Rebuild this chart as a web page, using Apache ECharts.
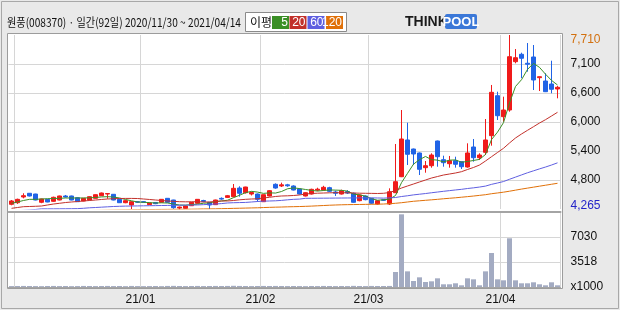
<!DOCTYPE html>
<html><head><meta charset="utf-8">
<script src="https://cdn.jsdelivr.net/npm/echarts@6/dist/echarts.min.js"></script>
<style>html,body{margin:0;padding:0;background:#e9e9e9}#c{width:620px;height:310px}</style>
</head><body><div id="c"></div>
<script>
const dates = ['2020/11/30',
'2020/12/01','2020/12/02','2020/12/03','2020/12/04','2020/12/07','2020/12/08','2020/12/09','2020/12/10','2020/12/11','2020/12/14','2020/12/15','2020/12/16','2020/12/17','2020/12/18','2020/12/21','2020/12/22','2020/12/23','2020/12/24','2020/12/28','2020/12/29','2020/12/30',
'2021/01/04','2021/01/05','2021/01/06','2021/01/07','2021/01/08','2021/01/11','2021/01/12','2021/01/13','2021/01/14','2021/01/15','2021/01/18','2021/01/19','2021/01/20','2021/01/21','2021/01/22','2021/01/25','2021/01/26','2021/01/27','2021/01/28','2021/01/29',
'2021/02/01','2021/02/02','2021/02/03','2021/02/04','2021/02/05','2021/02/08','2021/02/09','2021/02/10','2021/02/15','2021/02/16','2021/02/17','2021/02/18','2021/02/19','2021/02/22','2021/02/23','2021/02/24','2021/02/25','2021/02/26',
'2021/03/02','2021/03/03','2021/03/04','2021/03/05','2021/03/08','2021/03/09','2021/03/10','2021/03/11','2021/03/12','2021/03/15','2021/03/16','2021/03/17','2021/03/18','2021/03/19','2021/03/22','2021/03/23','2021/03/24','2021/03/25','2021/03/26','2021/03/29','2021/03/30','2021/03/31',
'2021/04/01','2021/04/02','2021/04/05','2021/04/06','2021/04/07','2021/04/08','2021/04/09','2021/04/12','2021/04/13','2021/04/14'];

const open  = [4297,4330,4448,4525,4510,4339,4400,4359,4386,4469,4469,4434,4366,4386,4421,4475,4510,4504,4400,4330,4283,4350,4352,4290,4335,4339,4421,4386,4220,4214,4268,4318,4376,4339,4290,4420,4440,4455,4634,4537,4510,4510,4351,4469,4711,4676,4700,4676,4614,4469,4510,4590,4593,4641,4552,4510,4560,4525,4372,4469,4421,4303,4390,4303,4537,4868,5628,5441,5359,5055,5096,5607,5220,5137,5200,5179,5069,5483,5261,5373,5717,6544,6110,6248,7248,7401,7215,7345,6917,6848,6786,6683];
const close = [4366,4400,4476,4469,4386,4407,4345,4442,4469,4448,4386,4351,4421,4455,4496,4531,4520,4386,4330,4372,4351,4340,4338,4324,4310,4400,4339,4227,4240,4262,4339,4400,4355,4283,4386,4405,4475,4628,4525,4655,4541,4400,4496,4579,4634,4700,4680,4593,4510,4537,4607,4610,4649,4566,4525,4579,4530,4339,4490,4393,4318,4372,4380,4558,4765,5648,5332,5338,5021,5096,5317,5282,5158,5200,5125,5075,5359,5261,5317,5628,6614,6130,6248,7351,7330,7318,7195,6869,6937,6627,6677,6718];
const low   = [4277,4305,4421,4460,4380,4320,4340,4350,4380,4440,4380,4345,4360,4380,4415,4470,4413,4380,4325,4320,4200,4330,4330,4285,4300,4335,4335,4205,4195,4210,4262,4312,4340,4200,4285,4390,4430,4442,4455,4520,4480,4350,4345,4460,4620,4655,4660,4585,4500,4460,4500,4570,4580,4550,4470,4500,4510,4330,4360,4380,4300,4290,4370,4283,4530,4860,5110,5110,4903,4951,5055,5075,5075,5055,5055,5028,5055,5179,5214,5317,5510,6041,6006,6213,7214,6908,7041,6662,6641,6620,6594,6490];
const high  = [4386,4414,4525,4530,4515,4414,4407,4455,4476,4490,4476,4440,4428,4462,4503,4540,4530,4510,4405,4380,4360,4360,4362,4330,4345,4405,4425,4390,4250,4268,4345,4405,4390,4345,4392,4440,4490,4717,4670,4660,4560,4520,4500,4590,4730,4745,4720,4690,4625,4545,4620,4640,4680,4660,4580,4600,4590,4540,4500,4480,4430,4380,4400,4628,5545,6248,5986,5450,5370,5193,5352,5615,5303,5297,5282,5185,5559,5648,5352,6062,6766,6627,6524,7800,7510,7434,7634,7593,6940,7008,7268,6745];

const ma5   = [4318,4345,4376,4400,4400,4407,4413,4417,4421,4428,4428,4428,4428,4432,4438,4450,4455,4448,4428,4397,4370,4345,4339,4332,4324,4328,4324,4303,4283,4279,4293,4300,4319,4328,4353,4366,4381,4435,4484,4538,4565,4550,4523,4534,4530,4562,4618,4637,4623,4604,4585,4571,4583,4594,4591,4586,4570,4508,4493,4466,4414,4382,4391,4404,4479,4745,4937,5128,5221,5287,5221,5211,5175,5211,5216,5168,5183,5204,5227,5328,5636,5790,5987,6394,6735,6875,7088,7213,7130,6989,6861,6766];
const ma20  = [4214,4231,4248,4252,4256,4262,4283,4303,4318,4334,4345,4355,4366,4376,4386,4397,4407,4413,4417,4419,4419,4417,4407,4397,4386,4376,4366,4359,4351,4349,4349,4351,4345,4345,4355,4366,4366,4376,4390,4400,4407,4411,4428,4442,4459,4469,4473,4479,4490,4510,4521,4527,4531,4535,4537,4537,4535,4531,4527,4525,4523,4521,4525,4541,4583,4634,4676,4717,4759,4800,4841,4872,4903,4924,4945,4972,5017,5059,5110,5193,5282,5369,5456,5566,5669,5752,5828,5903,5979,6048,6124,6201];
const ma60  = [4160,4165,4172,4180,4190,4203,4203,4203,4204,4205,4206,4208,4215,4225,4231,4238,4245,4252,4256,4260,4262,4264,4266,4268,4270,4272,4274,4276,4278,4280,4282,4284,4290,4296,4303,4312,4325,4330,4333,4336,4345,4355,4362,4366,4370,4378,4390,4400,4405,4421,4422,4423,4424,4425,4426,4427,4428,4429,4430,4430,4430,4428,4425,4430,4438,4458,4474,4492,4506,4520,4536,4551,4566,4580,4594,4607,4624,4638,4654,4674,4710,4738,4768,4815,4860,4905,4950,4990,5030,5068,5110,5155];
const ma120 = [4130,4133,4136,4139,4142,4145,4148,4151,4154,4157,4160,4162,4165,4168,4171,4173,4176,4178,4180,4182,4184,4186,4188,4189,4190,4191,4192,4193,4194,4195,4196,4198,4201,4202,4204,4207,4210,4213,4216,4219,4222,4225,4230,4234,4238,4241,4245,4248,4251,4255,4260,4266,4272,4278,4283,4287,4290,4292,4294,4296,4298,4300,4303,4310,4318,4330,4345,4360,4370,4380,4390,4400,4412,4422,4432,4444,4456,4468,4482,4496,4516,4532,4548,4568,4590,4612,4632,4652,4672,4692,4712,4732];
const volume = [130,140,150,140,130,120,140,150,130,140,120,130,150,140,130,140,150,130,140,120,150,130,120,130,140,120,150,160,140,130,140,150,130,140,150,140,150,170,150,140,130,140,150,140,150,140,130,140,130,120,140,130,150,140,130,140,130,160,140,130,150,140,140,150,2110,10220,2200,840,1360,700,800,1220,380,380,520,240,1220,1080,240,2200,4780,1080,940,6850,940,520,520,660,380,240,660,240];

const priceTickValues = [4265,4800,5400,6000,6600,7200,7710];
const priceTickLabels = ['4,265','4,800','5,400','6,000','6,600','7,100','7,710'];
const volTickLabels = ['x1000','3518','7030'];
const monthLabels = ['21/01','21/02','21/03','21/04'];
const titleText = '원풍(008370) · 일간(92일) 2020/11/30 ~ 2021/04/14';
const maLegend = ['5','20','60','120'];
const maColors = ['#3b8f26','#c2312b','#5f5fe0','#e07008'];

const FONT = '"Liberation Sans", Arial, sans-serif';
const KFONT = '"Noto Sans CJK KR", "Liberation Sans", sans-serif';
function isMonthStart(i){ return i>0 && dates[i].slice(5,7)!==dates[i-1].slice(5,7); }

const chart = echarts.init(document.getElementById('c'), null, {renderer:'canvas'});
const gridLine = {show:true, interval:(i)=>isMonthStart(i), lineStyle:{color:'#d6d6d6', width:1}};

const legendEls = [];
const boxX = [272, 289.5, 307.5, 326];
maLegend.forEach((t,k)=>{
  legendEls.push({type:'rect', shape:{x:boxX[k], y:16, width:17, height:13}, style:{fill:maColors[k]}, z:10});
  legendEls.push({type:'text', x:boxX[k]+16, y:22.5, style:{text:t, fill:'#fff', font:'12px '+FONT, textAlign:'right', textVerticalAlign:'middle'}, z:11});
});

chart.setOption({
  animation:false,
  backgroundColor:'#e9e9e9',
  textStyle:{fontFamily:FONT},
  graphic:[
    {type:'rect', shape:{x:1.5,y:1.5,width:617,height:307}, style:{fill:'#e9e9e9', stroke:'#a8a8a8', lineWidth:1}, z:-20},
    {type:'rect', shape:{x:7.5,y:33.5,width:555,height:255}, style:{fill:'#ffffff', stroke:'#9c9c9c', lineWidth:1}, z:-10},
    {type:'text', x:7, y:22, scaleX:0.845, style:{text:titleText, fill:'#111', font:'12px '+KFONT, textVerticalAlign:'middle'}, z:10},
    {type:'rect', shape:{x:245.5,y:12.5,width:101,height:19}, style:{fill:'#fff', stroke:'#8a8a8a', lineWidth:1}, z:9},
    {type:'text', x:250, y:22, style:{text:'이평', fill:'#111', font:'12px '+KFONT, textVerticalAlign:'middle'}, z:10},
    ...legendEls,
    {type:'text', x:405, y:22, style:{text:'THINK', fill:'#1a1a1a', font:'bold 14px '+FONT, textVerticalAlign:'middle'}, z:10},
    {type:'rect', shape:{x:445,y:14,width:32,height:15, r:2}, style:{fill:'#3b78d8'}, z:10},
    {type:'text', x:461, y:22, style:{text:'POOL', fill:'#fff', font:'bold 13px '+FONT, textAlign:'center', textVerticalAlign:'middle'}, z:11}
  ],
  grid:[
    {left:8.5, top:35, width:552, height:174},
    {left:8.5, top:212, width:552, height:75}
  ],
  xAxis:[
    {type:'category', gridIndex:0, data:dates, boundaryGap:true,
     axisLine:{show:true, lineStyle:{color:'#a4a4a4', width:2}}, axisTick:{show:false}, axisLabel:{show:false},
     splitLine:gridLine, offset:3},
    {type:'category', gridIndex:1, data:dates, boundaryGap:true,
     axisLine:{show:true, lineStyle:{color:'#a4a4a4', width:1}}, axisTick:{show:false}, offset:1,
     axisLabel:{show:true, interval:(i)=>isMonthStart(i) && monthLabels.includes(dates[i].slice(2,7)),
       formatter:(v)=>v.slice(2,7), color:'#111', fontSize:12, margin:6, padding:[0,6,0,0]},
     splitLine:gridLine}
  ],
  yAxis:[
    {type:'value', gridIndex:0, position:'right', min:4200, max:7800, interval:600,
     axisLine:{show:false}, axisTick:{show:false},
     splitLine:{show:true, showMinLine:false, showMaxLine:false, lineStyle:{color:'#d6d6d6'}},
     axisLabel:{show:true, customValues:priceTickValues, margin:10, fontSize:12, color:'#111',
       formatter:(v)=>{ const k=priceTickValues.indexOf(v); const t=priceTickLabels[k];
         if(k===priceTickValues.length-1) return '{o|'+t+'}'; if(k===0) return '{b|'+t+'}'; return t; },
       rich:{o:{color:'#d2700f', fontSize:12}, b:{color:'#2323c8', fontSize:12}}}},
    {type:'value', gridIndex:1, position:'right', min:0, max:10545, interval:3515,
     axisLine:{show:false}, axisTick:{show:false},
     splitLine:{show:true, showMinLine:false, showMaxLine:false, lineStyle:{color:'#d6d6d6'}},
     axisLabel:{show:true, margin:10, fontSize:12, color:'#111',
       formatter:(v,idx)=> (idx<volTickLabels.length ? volTickLabels[idx] : '')}}
  ],
  series:[
    {type:'candlestick', xAxisIndex:0, yAxisIndex:0, barWidth:5, z:2,
     data: open.map((o,i)=>[o, close[i], low[i], high[i]]),
     itemStyle:{color:'#f01a1a', color0:'#2063e6', borderColor:'#f01a1a', borderColor0:'#2063e6', borderWidth:1}},
    {type:'line', name:'MA5', xAxisIndex:0, yAxisIndex:0, data:ma5, symbol:'none', z:3, lineStyle:{width:1, color:maColors[0]}},
    {type:'line', name:'MA20', xAxisIndex:0, yAxisIndex:0, data:ma20, symbol:'none', z:3, lineStyle:{width:1, color:maColors[1]}},
    {type:'line', name:'MA60', xAxisIndex:0, yAxisIndex:0, data:ma60, symbol:'none', z:3, lineStyle:{width:1, color:maColors[2]}},
    {type:'line', name:'MA120', xAxisIndex:0, yAxisIndex:0, data:ma120, symbol:'none', z:3, lineStyle:{width:1, color:maColors[3]}},
    {type:'bar', xAxisIndex:1, yAxisIndex:1, data:volume, barWidth:5, itemStyle:{color:'#a3abc2'}}
  ]
});
</script></body></html>
